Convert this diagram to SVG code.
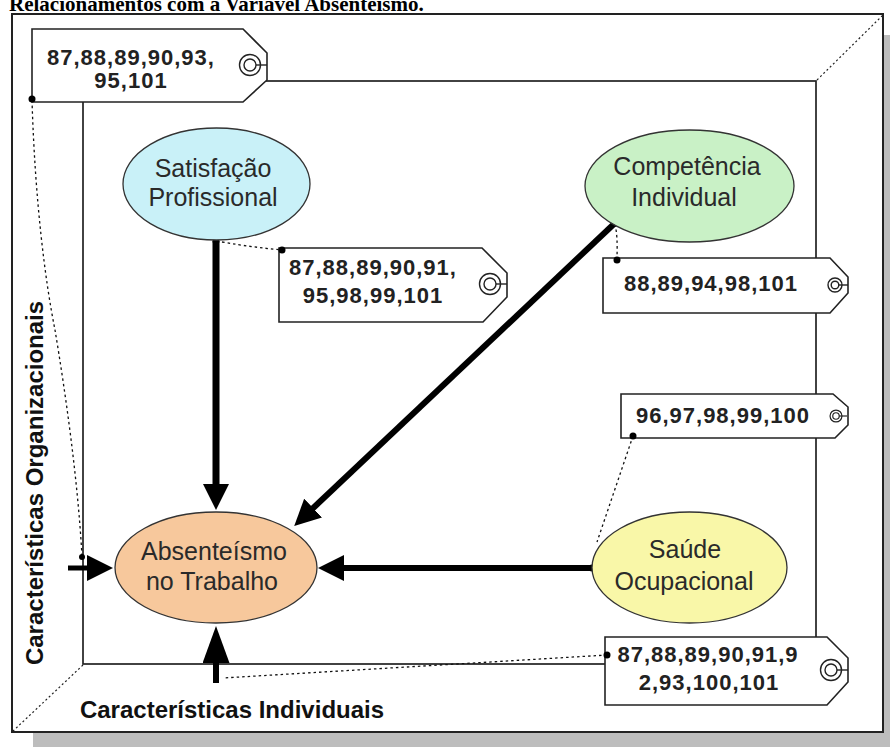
<svg xmlns="http://www.w3.org/2000/svg" xmlns:xlink="http://www.w3.org/1999/xlink" width="890" height="747" viewBox="0 0 890 747">
  <style>
    .title { font-family: "Liberation Serif", "Times New Roman", serif; font-weight: bold; font-size: 21px; fill: #000; }
    .frame { fill: #fff; stroke: #222; stroke-width: 2; }
    .inner { fill: none; stroke: #222; stroke-width: 1.7; }
    .diag { fill: none; stroke: #222; stroke-width: 1.2; stroke-dasharray: 2 2.5; }
    .node { stroke: #333; stroke-width: 1.3; }
    .label { font-family: "Liberation Sans", Arial, sans-serif; font-size: 25px; fill: #2a2a2a; text-anchor: middle; }
    .tag { fill: #fff; stroke: #222; stroke-width: 1.6; }
    .tagtext { font-family: "Liberation Sans", Arial, sans-serif; font-weight: bold; font-size: 22px; letter-spacing: 1px; fill: #222; text-anchor: middle; }
    .axis { font-family: "Liberation Sans", Arial, sans-serif; font-weight: bold; font-size: 24px; fill: #111; text-anchor: middle; }
    .ring { fill: none; stroke: #222; stroke-width: 1.4; }
    .link { fill: none; stroke: #000; stroke-linecap: butt; }
    .note { fill: none; stroke: #111; stroke-width: 1.3; stroke-dasharray: 2.5 3; }
    .dot { fill: #000; }
  </style>
  <defs>
    <marker id="head" markerUnits="userSpaceOnUse" markerWidth="26" markerHeight="26" viewBox="0 0 26 26" refX="1" refY="13" orient="auto">
      <path d="M0,0 L26,13 L0,26 z" fill="#000"/>
    </marker>
    <marker id="head-long" markerUnits="userSpaceOnUse" markerWidth="37" markerHeight="27" viewBox="0 0 37 27" refX="1" refY="13.5" orient="auto">
      <path d="M0,0 L37,13.5 L0,27 z" fill="#000"/>
    </marker>
    <!-- tag eyelet: double ring with a string to the tip -->
    <g id="ring-lg" class="ring">
      <circle cx="0" cy="0" r="10.5"/>
      <circle cx="0" cy="0" r="6"/>
      <line x1="6" y1="0" x2="17" y2="0"/>
    </g>
    <g id="ring-sm" class="ring">
      <circle cx="0" cy="0" r="7"/>
      <circle cx="0" cy="0" r="3.8"/>
      <line x1="3.8" y1="0" x2="13" y2="0"/>
    </g>
  </defs>

  <rect width="890" height="747" fill="#fff"/>

  <!-- caption (top is clipped by the page edge) -->
  <text class="title" x="9" y="11">Relacionamentos com a Variável Absenteísmo.</text>

  <!-- box frame with drop shadow and perspective corners -->
  <g id="frame">
    <rect x="33" y="35" width="857" height="712" fill="#bdbdbd"/>
    <rect class="frame" x="12" y="14" width="871" height="718"/>
    <rect class="inner" x="83" y="81" width="733" height="583"/>
    <line class="diag" x1="817" y1="80" x2="883" y2="15"/>
    <line class="diag" x1="83" y1="665" x2="12" y2="732"/>
    <text class="axis" transform="translate(43,483) rotate(-90)">Características Organizacionais</text>
    <text class="axis" x="232" y="718">Características Individuais</text>
  </g>

  <!-- note connectors and causal arrows -->
  <g id="connectors">
    <path class="note" d="M32,100 C35,200 45,280 55,330 C65,390 78,480 82,557"/>
    <path class="note" d="M222,242 C245,246 262,248 282,250"/>
    <path class="note" d="M615,224 C618,238 617,250 617,260"/>
    <path class="note" d="M633,436 L597,542"/>
    <path class="note" d="M607,655 L223,678"/>

    <line class="link" x1="216" y1="241" x2="216" y2="485" stroke-width="7" marker-end="url(#head)"/>
    <line class="link" x1="615" y1="223" x2="312.4" y2="508.8" stroke-width="6" marker-end="url(#head)"/>
    <line class="link" x1="592" y1="568" x2="343" y2="568" stroke-width="6" marker-end="url(#head)"/>
    <line class="link" x1="68" y1="568" x2="88" y2="568" stroke-width="5" marker-end="url(#head)"/>
    <line class="link" x1="216" y1="683" x2="216" y2="662" stroke-width="6" marker-end="url(#head-long)"/>

    <circle class="dot" cx="216" cy="241" r="3.5"/>
    <circle class="dot" cx="615" cy="223" r="3.5"/>
    <circle class="dot" cx="592" cy="568" r="3.5"/>
    <circle class="dot" cx="82" cy="557" r="3"/>
  </g>

  <g id="satisfacao">
    <ellipse class="node" cx="216.5" cy="184" rx="93.5" ry="56" fill="#c9f1f8"/>
    <text class="label" x="213" y="177">Satisfação</text>
    <text class="label" x="213" y="206">Profissional</text>
  </g>

  <g id="competencia">
    <ellipse class="node" cx="689.5" cy="186" rx="104.5" ry="56" fill="#c9f1c6"/>
    <text class="label" x="687" y="175">Competência</text>
    <text class="label" x="684" y="206">Individual</text>
  </g>

  <g id="absenteismo">
    <ellipse class="node" cx="216" cy="567.5" rx="101" ry="55.5" fill="#f7c89c"/>
    <text class="label" x="214" y="560">Absenteísmo</text>
    <text class="label" x="212" y="590">no Trabalho</text>
  </g>

  <g id="saude">
    <ellipse class="node" cx="689.5" cy="567.5" rx="97.5" ry="55.5" fill="#f9f7a8"/>
    <text class="label" x="685" y="558">Saúde</text>
    <text class="label" x="684" y="590">Ocupacional</text>
  </g>

  <g id="tag-organizacionais">
    <polygon class="tag" points="32,29 243,29 267,53 267,80 243,102 32,102"/>
    <text class="tagtext" x="131" y="65">87,88,89,90,93,</text>
    <text class="tagtext" x="131" y="88">95,101</text>
    <use xlink:href="#ring-lg" x="250" y="65"/>
    <circle class="dot" cx="32" cy="99" r="3.5"/>
  </g>

  <g id="tag-satisfacao">
    <polygon class="tag" points="279,248 482,248 507,273 507,297 483,322 279,322"/>
    <text class="tagtext" x="373" y="275">87,88,89,90,91,</text>
    <text class="tagtext" x="373" y="303">95,98,99,101</text>
    <use xlink:href="#ring-lg" x="490" y="284"/>
    <circle class="dot" cx="282" cy="250" r="3.5"/>
  </g>

  <g id="tag-competencia">
    <polygon class="tag" points="603,258 830,258 848,277 848,293 830,313 603,313"/>
    <text class="tagtext" x="711" y="291">88,89,94,98,101</text>
    <use xlink:href="#ring-sm" x="835" y="285"/>
    <circle class="dot" cx="617" cy="260" r="3.5"/>
  </g>

  <g id="tag-saude">
    <polygon class="tag" points="621,394 833,394 848,407 848,425 835,438 621,438"/>
    <text class="tagtext" x="723" y="423">96,97,98,99,100</text>
    <use xlink:href="#ring-sm" x="836" y="416" transform="translate(836,416) scale(0.85) translate(-836,-416)"/>
    <circle class="dot" cx="633" cy="436" r="3.5"/>
  </g>

  <g id="tag-individuais">
    <polygon class="tag" points="605,637 827,637 848,658 848,682 827,705 605,705"/>
    <text class="tagtext" x="708" y="662">87,88,89,90,91,9</text>
    <text class="tagtext" x="709" y="690">2,93,100,101</text>
    <use xlink:href="#ring-lg" x="831" y="670"/>
    <circle class="dot" cx="607" cy="655" r="3.5"/>
  </g>
</svg>
